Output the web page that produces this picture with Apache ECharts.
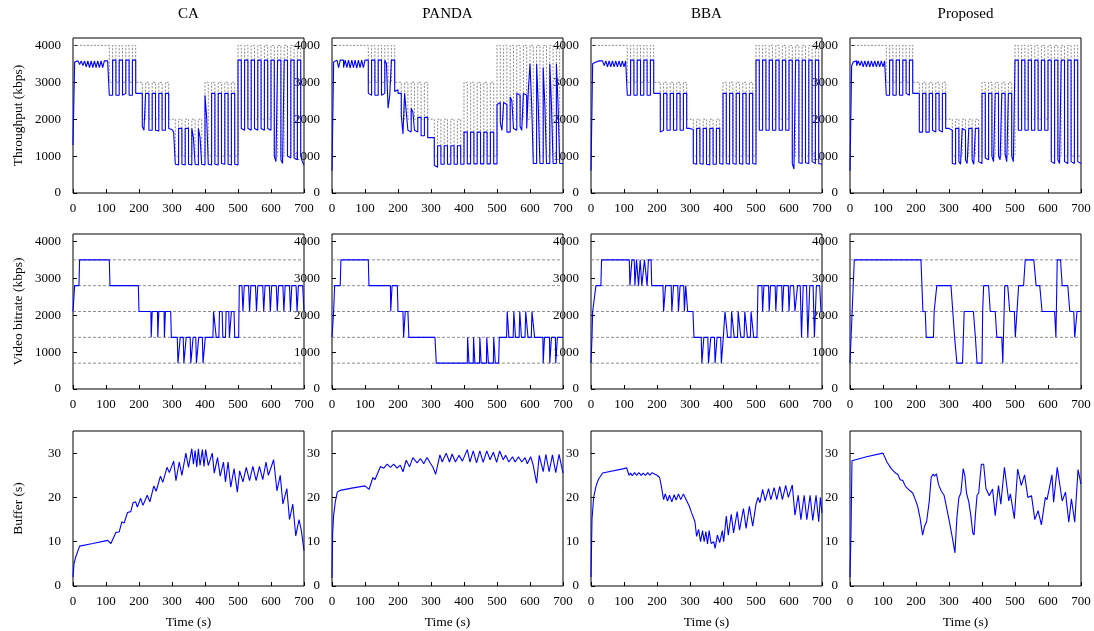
<!DOCTYPE html>
<html>
<head>
<meta charset="utf-8">
<script src="https://cdn.jsdelivr.net/npm/echarts@6/dist/echarts.min.js"></script>
<style>
  html, body { margin: 0; padding: 0; background: #fff; }
  #chart { width: 1094px; height: 631px; }
</style>
</head>
<body>
<div id="chart"></div>
<script>
// column names and row axis names
const methods = ['CA', 'PANDA', 'BBA', 'Proposed']
const rowNames = ['Throughput (kbps)', 'Video bitrate (kbps)', 'Buffer (s)']

// available bandwidth (gray dashed), [time, kbps] step points
const bandwidth = [
  [0, 4000], [110, 3000], [120, 4000], [130, 3000], [140, 4000], [150, 3000], [160, 4000], [170, 3000], [180, 4000], [190, 3000],
  [210, 2000], [220, 3000], [230, 2000], [240, 3000], [250, 2000], [260, 3000], [270, 2000], [280, 3000], [290, 2000],
  [310, 1000], [320, 2000], [330, 1000], [340, 2000], [350, 1000], [360, 2000], [370, 1000], [380, 2000], [390, 1000],
  [400, 3000], [410, 1000], [420, 3000], [430, 1000], [440, 3000], [450, 1000], [460, 3000], [470, 1000], [480, 3000], [490, 1000],
  [500, 4000], [510, 2000], [520, 4000], [530, 2000], [540, 4000], [550, 2000], [560, 4000], [570, 2000], [580, 4000], [590, 2000],
  [600, 4000], [610, 1000], [620, 4000], [630, 1000], [640, 4000], [650, 1000], [660, 4000], [670, 1000], [680, 4000], [690, 1000],
  [700, 1000]
]

// measured throughput (kbps), one value every 5 s from 0 to 700
const thrCA = [
  1300, 3550, 3580, 3570, 3480, 3580, 3450, 3580, 3420, 3580, 3400, 3580, 3400, 3580, 3400, 3580, 3400, 3580, 3400, 3580,
  3580, 3580, 2650, 2650, 3600, 3600, 2650, 2650, 3600, 3600, 2650, 2700, 3600, 3600, 2650, 2650, 3600, 3600, 2700, 2700,
  2700, 2700, 1800, 1700, 2700, 2700, 1700, 1700, 2700, 2700, 1700, 1680, 2700, 2700, 1700, 1700, 2700, 2700, 1750, 1720,
  1700, 1650, 780, 760, 1750, 1750, 780, 760, 1750, 1750, 780, 760, 1750, 1500, 780, 760, 1750, 1500, 780, 760,
  2650, 2050, 780, 760, 2700, 2700, 780, 760, 2700, 2700, 800, 780, 2700, 2700, 780, 760, 2700, 2700, 780, 760,
  3600, 3600, 1750, 1700, 3600, 3600, 1750, 1700, 3600, 3600, 1750, 1700, 3600, 3600, 1750, 1700, 3600, 3600, 1750, 1700,
  3600, 3600, 1000, 850, 3600, 3600, 900, 800, 3600, 3600, 1000, 950, 3600, 3600, 950, 900, 3600, 3600, 1000, 850,
  750
]
const thrPANDA = [
  600, 3550, 3600, 3600, 3400, 3600, 3600, 3400, 3600, 3400, 3600, 3380, 3600, 3400, 3600, 3380, 3600, 3400, 3600, 3400,
  3600, 3600, 2700, 2650, 3600, 3600, 2650, 2650, 3600, 3600, 2650, 2700, 3600, 3500, 2300, 2650, 3600, 3600, 2750, 2800,
  2700, 2700, 2100, 1600, 2700, 2200, 1700, 1650, 2300, 2200, 1700, 1650, 2050, 2050, 1550, 1550, 2050, 2050, 1500, 1500,
  1500, 1500, 750, 700, 1280, 1280, 780, 780, 1280, 1280, 780, 780, 1280, 1280, 780, 780, 1280, 1280, 780, 780,
  1650, 1650, 790, 790, 1650, 1650, 790, 790, 1650, 1650, 790, 790, 1650, 1650, 790, 790, 1650, 1650, 790, 790,
  2400, 2450, 1900, 1700, 2450, 2400, 1650, 1650, 2600, 2500, 1750, 1700, 2700, 2650, 1800, 1700, 2700, 2650, 1750, 2800,
  3500, 2400, 800, 800, 3500, 2400, 800, 800, 3400, 2400, 800, 800, 3500, 2400, 800, 800, 3500, 2400, 800, 800,
  800
]
const thrBBA = [
  600, 3500, 3550, 3580, 3580, 3580, 3580, 3580, 3450, 3580, 3420, 3580, 3420, 3580, 3420, 3580, 3420, 3580, 3420, 3580,
  3420, 3580, 2650, 2650, 3600, 3600, 2650, 2650, 3600, 3600, 2650, 2650, 3600, 3600, 2650, 2650, 3600, 3600, 2700, 2700,
  2700, 2700, 1650, 1700, 2700, 2700, 1700, 1700, 2700, 2700, 1700, 1700, 2700, 2700, 1700, 1700, 2700, 2700, 1750, 1750,
  1750, 1720, 800, 780, 1750, 1750, 800, 780, 1750, 1750, 780, 760, 1750, 1750, 780, 780, 1750, 1750, 800, 780,
  2700, 2700, 800, 780, 2700, 2700, 800, 780, 2700, 2700, 800, 780, 2700, 2700, 800, 780, 2700, 2700, 800, 780,
  3600, 3600, 1700, 1700, 3600, 3600, 1700, 1700, 3600, 3600, 1700, 1700, 3600, 3600, 1700, 1700, 3600, 3600, 1700, 1700,
  3600, 3600, 800, 650, 3600, 3600, 820, 800, 3600, 3600, 820, 800, 3600, 3600, 850, 800, 3600, 3600, 800, 780,
  780
]
const thrProposed = [
  600, 3450, 3550, 3580, 3450, 3580, 3450, 3580, 3420, 3580, 3420, 3580, 3420, 3580, 3420, 3580, 3420, 3580, 3420, 3580,
  3420, 3580, 2650, 2650, 3600, 3600, 2650, 2650, 3600, 3600, 2650, 2650, 3600, 3600, 2700, 2650, 3600, 3600, 2700, 2700,
  2700, 2700, 1650, 1650, 2700, 2700, 1650, 1650, 2700, 2700, 1700, 1650, 2700, 2700, 1700, 1650, 2700, 2700, 1750, 1750,
  1750, 1700, 800, 780, 1750, 1750, 850, 780, 1750, 1700, 900, 800, 1750, 1750, 900, 780, 1750, 1750, 850, 800,
  2700, 2700, 950, 900, 2700, 2700, 1000, 850, 2700, 2700, 1000, 900, 2700, 2700, 1050, 850, 2700, 2700, 1000, 850,
  3600, 3600, 1700, 1700, 3600, 3600, 1700, 1700, 3600, 3600, 1700, 1700, 3600, 3600, 1700, 1700, 3600, 3600, 1700, 1700,
  3600, 3600, 850, 800, 3600, 3600, 900, 800, 3600, 3600, 850, 800, 3600, 3600, 850, 800, 3600, 3600, 850, 800,
  800
]

// bitrate ladder (gray dashed levels) and selected video bitrate, [time, kbps]
const rateLevels = [700, 1400, 2100, 2800, 3500]
const rateCA = [
  [0, 2100], [3, 2100], [5, 2800], [18, 2800], [20, 3500], [110, 3500], [112, 2800], [198, 2800], [200, 2100],
  [236, 2100], [237, 1400], [239, 1400], [240, 2100], [256, 2100], [257, 1400], [259, 1400], [260, 2100],
  [276, 2100], [277, 1400], [279, 1400], [280, 2100], [296, 2100], [298, 1400], [316, 1400], [318, 700], [323, 700],
  [325, 1400], [334, 1400], [336, 700], [341, 700], [343, 1400], [355, 1400], [357, 700], [362, 700], [364, 1400],
  [372, 1400], [374, 700], [379, 700], [381, 1400], [392, 1400], [394, 700], [399, 700], [401, 1400], [424, 1400],
  [426, 2100], [432, 2100], [434, 1400], [442, 1400], [444, 2100], [452, 2100], [454, 1400], [462, 1400], [464, 2100],
  [472, 2100], [474, 1400], [478, 1400], [480, 2100], [488, 2100], [490, 1400], [502, 1400], [504, 2800],
  [512, 2800], [515, 2100], [517, 2100], [519, 2800], [532, 2800], [535, 2100], [537, 2100], [539, 2800],
  [553, 2800], [556, 2100], [558, 2100], [560, 2800], [575, 2800], [578, 2100], [580, 2100], [582, 2800],
  [595, 2800], [598, 2100], [600, 2100], [602, 2800], [616, 2800], [619, 2100], [621, 2100], [623, 2800],
  [636, 2800], [639, 2100], [641, 2100], [643, 2800], [656, 2800], [659, 2100], [661, 2100], [663, 2800],
  [676, 2800], [679, 2100], [681, 2100], [683, 2800], [696, 2800], [700, 2100]
]
const ratePANDA = [
  [0, 1400], [2, 1400], [5, 2100], [8, 2800], [25, 2800], [27, 3500], [110, 3500], [112, 2800], [177, 2800],
  [178, 2100], [181, 2100], [182, 2800], [198, 2800], [200, 2100], [215, 2100], [217, 1400], [220, 1400], [222, 2100],
  [230, 2100], [233, 1400], [312, 1400], [316, 700], [410, 700], [411, 1400], [413, 1400], [415, 700], [428, 700],
  [429, 1400], [431, 1400], [433, 700], [447, 700], [448, 1400], [450, 1400], [452, 700], [468, 700], [469, 1400],
  [472, 1400], [474, 700], [489, 700], [490, 1400], [492, 1400], [495, 700], [505, 700], [507, 1400], [529, 1400],
  [531, 2100], [534, 2100], [536, 1400], [549, 1400], [551, 2100], [554, 2100], [556, 1400], [567, 1400], [569, 2100],
  [572, 2100], [574, 1400], [585, 1400], [587, 2100], [592, 2100], [594, 1400], [604, 1400], [606, 2100], [611, 2100],
  [614, 1400], [639, 1400], [640, 700], [643, 700], [644, 1400], [659, 1400], [660, 700], [664, 700], [665, 1400],
  [677, 1400], [678, 700], [682, 700], [683, 1400], [700, 1400]
]
const rateBBA = [
  [0, 700], [2, 700], [3, 1400], [5, 2100], [10, 2100], [15, 2800], [30, 2800], [32, 3500], [116, 3500], [118, 2800],
  [122, 2800], [124, 3500], [131, 3500], [133, 2800], [136, 2800], [138, 3500], [142, 3500], [144, 2800], [147, 2800],
  [149, 3500], [152, 3500], [154, 2800], [160, 2800], [162, 3500], [168, 3500], [170, 2800], [172, 2800], [174, 3500],
  [182, 3500], [184, 2800], [218, 2800], [220, 2100], [224, 2100], [226, 2800], [243, 2800], [245, 2100], [248, 2100],
  [250, 2800], [263, 2800], [265, 2100], [268, 2100], [270, 2800], [281, 2800], [283, 2100], [285, 2100], [287, 2800],
  [291, 2800], [293, 2100], [309, 2100], [312, 1400], [334, 1400], [336, 700], [340, 700], [342, 1400], [354, 1400],
  [356, 700], [361, 700], [363, 1400], [374, 1400], [376, 700], [380, 700], [382, 1400], [393, 1400], [395, 700],
  [399, 700], [401, 1400], [404, 1400], [406, 2100], [412, 2100], [414, 1400], [424, 1400], [426, 2100], [432, 2100],
  [434, 1400], [444, 1400], [446, 2100], [452, 2100], [454, 1400], [464, 1400], [466, 2100], [472, 2100], [474, 1400],
  [483, 1400], [485, 2100], [491, 2100], [493, 1400], [503, 1400], [506, 2800], [518, 2800], [520, 2100], [522, 2100],
  [524, 2800], [538, 2800], [540, 2100], [542, 2100], [544, 2800], [558, 2800], [560, 2100], [562, 2100], [564, 2800],
  [578, 2800], [580, 2100], [582, 2100], [584, 2800], [598, 2800], [600, 2100], [602, 2100], [604, 2800], [614, 2800],
  [618, 2100], [622, 2100], [626, 2800], [634, 2800], [638, 1400], [641, 1400], [643, 2800], [653, 2800], [657, 1400],
  [660, 1400], [663, 2800], [673, 2800], [677, 1400], [680, 1400], [683, 2800], [693, 2800], [697, 2100], [700, 2100]
]
const rateProposed = [
  [0, 700], [5, 700], [13, 3500], [215, 3500], [221, 2100], [228, 2100], [231, 1400], [253, 1400], [255, 2100],
  [261, 2100], [263, 2800], [306, 2800], [317, 1400], [324, 700], [341, 700], [346, 2100], [374, 2100], [380, 1400],
  [385, 700], [400, 700], [402, 2100], [405, 2800], [420, 2800], [425, 2100], [440, 2100], [445, 1400], [460, 1400],
  [463, 700], [469, 2800], [478, 2800], [484, 2100], [498, 2100], [501, 1400], [506, 1400], [511, 2800], [526, 2800],
  [531, 3500], [557, 3500], [564, 2800], [575, 2800], [582, 2100], [620, 2100], [624, 1400], [628, 3500], [638, 3500],
  [643, 2800], [660, 2800], [666, 2100], [678, 2100], [681, 1400], [686, 1400], [688, 2100], [700, 2100]
]

// playback buffer (s), [time, seconds]
const bufCA = [
  [0, 2], [3, 5], [8, 6.5], [20, 9], [25, 9.1], [60, 9.6], [105, 10.3], [110, 10.5], [115, 9.6], [120, 9.7],
  [130, 12.1], [136, 11.8], [140, 12.2], [148, 14.5], [155, 14.2], [160, 14.6], [165, 16.6], [170, 16.3], [175, 16.8],
  [182, 18.8], [190, 19.0], [195, 17.8], [205, 19.8], [212, 18.2], [225, 20.5], [233, 19.0], [245, 22.6], [252, 21.4],
  [265, 24.8], [272, 23.4], [285, 26.8], [292, 25.6], [305, 28.2], [312, 23.8], [322, 28.0], [330, 25.0], [342, 30.0],
  [350, 26.8], [360, 31.0], [365, 27.5], [370, 30.6], [375, 26.9], [380, 31.0], [385, 27.2], [392, 30.8], [397, 27.0],
  [402, 30.8], [410, 27.2], [422, 30.0], [428, 25.5], [438, 29.0], [446, 24.8], [456, 28.0], [462, 23.5], [470, 28.0],
  [478, 22.3], [488, 26.5], [498, 21.2], [505, 26.0], [515, 23.5], [525, 26.8], [535, 23.8], [545, 27.0], [555, 23.8],
  [565, 27.0], [575, 24.0], [585, 28.0], [592, 25.0], [608, 28.5], [618, 21.5], [628, 25.0], [636, 18.5], [648, 22.0],
  [656, 15.0], [666, 18.5], [675, 11.3], [685, 15.0], [692, 12.5], [700, 8.0]
]
const bufPANDA = [
  [0, 1.8], [2, 12], [5, 16], [10, 19], [16, 21.2], [25, 21.6], [60, 22.1], [100, 22.6], [106, 22.8], [112, 21.8],
  [117, 21.8], [124, 24.5], [130, 24.0], [147, 27.0], [157, 26.6], [167, 27.5], [177, 26.8], [187, 27.5], [197, 26.6],
  [207, 27.3], [215, 25.8], [225, 28.4], [235, 26.9], [245, 29.0], [258, 27.8], [268, 28.8], [278, 27.6], [288, 29.0],
  [299, 27.6], [306, 26.8], [314, 25.2], [319, 25.5], [327, 29.6], [334, 28.0], [346, 30.0], [356, 28.0], [364, 29.8],
  [374, 28.0], [385, 29.5], [395, 28.2], [410, 30.8], [418, 28.0], [428, 30.5], [438, 27.8], [448, 30.5], [458, 27.9],
  [469, 30.5], [479, 28.5], [489, 30.2], [499, 27.9], [508, 30.5], [519, 28.5], [526, 29.5], [536, 28.0], [547, 29.2],
  [555, 28.0], [565, 29.2], [575, 28.0], [585, 29.0], [592, 27.6], [602, 29.2], [609, 27.5], [620, 23.2], [628, 29.5],
  [640, 25.8], [648, 29.7], [658, 25.8], [668, 29.6], [678, 25.6], [688, 29.7], [700, 25.5]
]
const bufBBA = [
  [0, 2], [3, 15], [8, 20], [15, 22.5], [22, 24], [35, 25.5], [100, 26.5], [108, 26.7], [115, 25.0], [120, 25.5],
  [125, 24.9], [132, 25.6], [138, 25.0], [145, 25.6], [152, 25.0], [158, 25.5], [165, 25.0], [172, 25.6], [178, 25.0],
  [185, 25.6], [192, 25.3], [200, 25.0], [208, 24.5], [212, 23.0], [220, 19.5], [225, 20.8], [232, 19.2], [238, 20.5],
  [245, 19.0], [252, 20.6], [258, 19.4], [265, 20.8], [272, 19.5], [280, 20.8], [285, 20.0], [290, 19.8], [298, 18.0],
  [305, 16.5], [315, 14.5], [320, 11.2], [326, 12.8], [332, 10.0], [338, 12.5], [343, 10.0], [348, 12.3], [353, 9.5],
  [358, 12.5], [364, 9.6], [372, 10.0], [376, 8.5], [383, 11.5], [390, 9.8], [398, 12.5], [402, 10.0], [410, 15.8],
  [416, 11.5], [425, 16.2], [432, 12.0], [443, 16.8], [450, 12.6], [462, 17.5], [470, 13.0], [480, 18.0], [490, 13.5],
  [500, 18.5], [506, 20.0], [512, 18.8], [520, 21.8], [528, 19.2], [538, 22.0], [545, 19.5], [555, 22.2], [563, 19.5],
  [572, 22.5], [580, 19.5], [590, 22.7], [598, 20.0], [610, 22.8], [618, 16.0], [628, 20.5], [636, 15.0], [646, 20.5],
  [654, 15.0], [664, 20.5], [672, 14.8], [682, 20.5], [690, 14.5], [695, 20.0], [700, 16.5]
]
const bufProposed = [
  [0, 2], [3, 12], [6, 28.3], [10, 28.6], [50, 29.2], [100, 30.0], [105, 29.8], [112, 28.0], [118, 28.0], [125, 26.5],
  [130, 26.5], [138, 25.5], [145, 25.2], [152, 24.0], [160, 23.8], [168, 22.5], [175, 22.0], [182, 21.5], [190, 21.0],
  [198, 19.5], [205, 18.0], [212, 15.5], [220, 11.5], [226, 13.5], [232, 14.5], [240, 19.0], [246, 24.5], [252, 25.3],
  [256, 24.8], [262, 25.3], [268, 23.0], [276, 21.5], [285, 20.5], [292, 18.0], [300, 15.0], [310, 11.0], [318, 7.5],
  [324, 15.5], [330, 20.0], [336, 21.0], [343, 26.5], [348, 25.0], [353, 21.0], [360, 19.0], [366, 16.0], [372, 12.0],
  [376, 11.5], [380, 16.0], [385, 20.5], [390, 21.0], [398, 27.5], [405, 27.5], [412, 22.0], [422, 20.4], [432, 21.9],
  [440, 15.9], [450, 22.7], [457, 18.5], [468, 26.8], [481, 19.2], [486, 20.8], [498, 15.2], [508, 26.4], [519, 22.7],
  [529, 25.1], [539, 20.0], [550, 20.4], [560, 15.0], [570, 17.0], [580, 13.8], [592, 20.0], [597, 19.5], [612, 25.1],
  [617, 18.9], [628, 26.8], [643, 19.2], [653, 21.2], [663, 14.4], [671, 19.7], [681, 14.4], [691, 26.3], [700, 23.0]
]

const throughput = [thrCA, thrPANDA, thrBBA, thrProposed]
const bitrate = [rateCA, ratePANDA, rateBBA, rateProposed]
const buffer = [bufCA, bufPANDA, bufBBA, bufProposed]

// y ranges per row
const yMax = [4200, 4200, 35]
const yStep = [1000, 1000, 10]

// layout (px)
const colLeft = [73, 332, 591, 850]
const colW = 231
const rowTop = [38, 234, 431]
const rowH = 155
const FONT = '"Liberation Serif", "Times New Roman", serif'
const BLUE = '#0000ff'

const chart = echarts.init(document.getElementById('chart'), null, { renderer: 'canvas' })

const grid = []
const xAxis = []
const yAxis = []
const series = []
const graphic = []

methods.forEach((name, c) => {
  graphic.push({
    type: 'text',
    x: colLeft[c] + colW / 2,
    y: 14,
    style: { text: name, align: 'center', verticalAlign: 'middle', fontSize: 15, fontFamily: FONT, fill: '#000' }
  })
})

for (let r = 0; r < 3; r++) {
  for (let c = 0; c < 4; c++) {
    const idx = grid.length
    grid.push({
      left: colLeft[c], top: rowTop[r], width: colW, height: rowH,
      show: true, borderColor: '#000', borderWidth: 1, backgroundColor: 'transparent',
      containLabel: false, outerBoundsMode: 'none'
    })
    xAxis.push({
      type: 'value', gridIndex: idx, min: 0, max: 700, interval: 100,
      axisLine: { show: false },
      axisTick: { inside: true, length: 4, lineStyle: { color: '#000' } },
      axisLabel: { margin: 9, fontSize: 13, fontFamily: FONT, color: '#000', formatter: v => String(v) },
      splitLine: { show: false },
      name: r === 2 ? 'Time (s)' : '',
      nameLocation: 'middle', nameGap: 29,
      nameTextStyle: { fontSize: 13.5, fontFamily: FONT, color: '#000' }
    })
    yAxis.push({
      type: 'value', gridIndex: idx, min: 0, max: yMax[r], interval: yStep[r],
      axisLine: { show: false },
      axisTick: { inside: true, length: 4, lineStyle: { color: '#000' } },
      axisLabel: { margin: 12, fontSize: 13, fontFamily: FONT, color: '#000', showMaxLabel: false, formatter: v => String(v) },
      splitLine: { show: false },
      name: c === 0 ? rowNames[r] : '',
      nameLocation: 'middle', nameGap: 48, nameRotate: 90,
      nameTextStyle: { fontSize: 13.5, fontFamily: FONT, color: '#000' }
    })

    const base = { type: 'line', xAxisIndex: idx, yAxisIndex: idx, symbol: 'none', showSymbol: false, animation: false, silent: true }
    if (r === 0) {
      series.push(Object.assign({}, base, {
        data: bandwidth, step: 'end',
        lineStyle: { color: '#8c8c8c', width: 1, type: [2, 1.5] }
      }))
      series.push(Object.assign({}, base, {
        data: throughput[c].map((v, i) => [i * 5, v]), step: 'end',
        lineStyle: { color: BLUE, width: 1.1 }
      }))
    } else if (r === 1) {
      rateLevels.forEach(lv => {
        series.push(Object.assign({}, base, {
          data: [[0, lv], [700, lv]],
          lineStyle: { color: '#808080', width: 0.9, type: [3, 2] }
        }))
      })
      series.push(Object.assign({}, base, {
        data: bitrate[c],
        lineStyle: { color: BLUE, width: 1.1 }
      }))
    } else {
      series.push(Object.assign({}, base, {
        data: buffer[c],
        lineStyle: { color: BLUE, width: 1.1 }
      }))
    }
  }
}

chart.setOption({
  animation: false,
  backgroundColor: '#fff',
  grid, xAxis, yAxis, series, graphic
})
</script>
</body>
</html>
